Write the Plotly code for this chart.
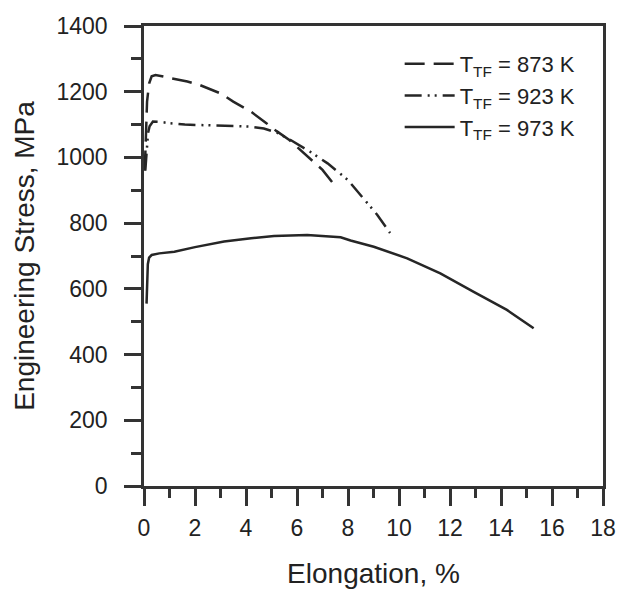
import plotly.graph_objects as go

# ---- data ----
x_873 = [0.03, 0.07, 0.12, 0.2, 0.3, 0.45, 0.8, 1.7, 2.2, 3.0, 3.5, 4.2, 4.8, 5.2, 5.7, 6.2, 7.0, 7.45]
y_873 = [960, 1080, 1170, 1225, 1247, 1251, 1246, 1231, 1220, 1195, 1170, 1139, 1104, 1080, 1053, 1017, 962, 918]

x_923 = [0.05, 0.1, 0.16, 0.22, 0.35, 0.67, 1.0, 1.6, 2.3, 3.0, 3.7, 4.1, 4.7, 5.2, 5.75, 6.5, 7.2, 8.0, 8.5, 8.75, 9.15, 9.65]
y_923 = [960, 1030, 1075, 1095, 1109, 1108, 1104, 1100, 1099, 1097, 1095, 1094, 1088, 1076, 1053, 1018, 982, 931, 886, 860, 825, 770]

x_973 = [0.1, 0.12, 0.15, 0.2, 0.3, 0.6, 1.19, 2.0, 3.14, 4.2, 5.1, 6.4, 7.2, 7.71, 8.1, 9.01, 10.32, 11.62, 12.93, 14.23, 15.28]
y_973 = [555, 620, 675, 695, 703, 708, 713, 727, 744, 754, 761, 764, 761, 757, 747, 728, 693, 647, 591, 536, 480]

names = ["T<sub>TF</sub> = 873 K", "T<sub>TF</sub> = 923 K", "T<sub>TF</sub> = 973 K"]

x_ticks = list(range(0, 19, 2))
y_ticks = list(range(0, 1401, 200))

LINE = "#262626"
AX = "#333333"
TXT = "#222222"
FONT = "Liberation Sans, Arial, sans-serif"

fig = go.Figure()
fig.add_trace(go.Scatter(x=x_873, y=y_873, mode="lines", name=names[0],
                         line=dict(color=LINE, width=2.5, dash="20px,9px")))
fig.add_trace(go.Scatter(x=x_923, y=y_923, mode="lines", name=names[1],
                         line=dict(color=LINE, width=2.5, dash="17px,6px,2px,5px,2px,6px")))
fig.add_trace(go.Scatter(x=x_973, y=y_973, mode="lines", name=names[2],
                         line=dict(color=LINE, width=2.5)))

axis_common = dict(
    showline=True, linecolor=AX, linewidth=2.5, mirror=True,
    ticks="outside", ticklen=17, tickwidth=2.5, tickcolor=AX,
    showgrid=False, zeroline=False, automargin=False,
    tickfont=dict(family=FONT, size=23, color=TXT),
)

fig.update_xaxes(
    range=[0, 18], tickvals=x_ticks, ticktext=[str(v) for v in x_ticks],
    minor=dict(ticks="outside", ticklen=9, tickwidth=2.5, tickcolor=AX, dtick=1, showgrid=False),
    title=dict(text="Elongation, %", font=dict(family=FONT, size=28, color=TXT), standoff=26),
    ticklabelstandoff=3,
    **axis_common,
)
fig.update_yaxes(
    range=[0, 1400], tickvals=y_ticks, ticktext=[str(v) for v in y_ticks],
    minor=dict(ticks="outside", ticklen=10, tickwidth=2.5, tickcolor=AX, dtick=100, showgrid=False),
    title=dict(text="Engineering Stress, MPa", font=dict(family=FONT, size=28, color=TXT), standoff=14),
    ticklabelstandoff=12,
    **axis_common,
)

fig.update_layout(
    width=617, height=589,
    margin=dict(l=144, r=14, t=26, b=103, pad=0),
    paper_bgcolor="white", plot_bgcolor="white",
    showlegend=True,
    legend=dict(
        x=0.557, y=0.963, xanchor="left", yanchor="top",
        bgcolor="rgba(0,0,0,0)", borderwidth=0,
        font=dict(family=FONT, size=22, color=TXT),
        itemwidth=50, tracegroupgap=0,
    ),
)

fig.write_html("out.html")
